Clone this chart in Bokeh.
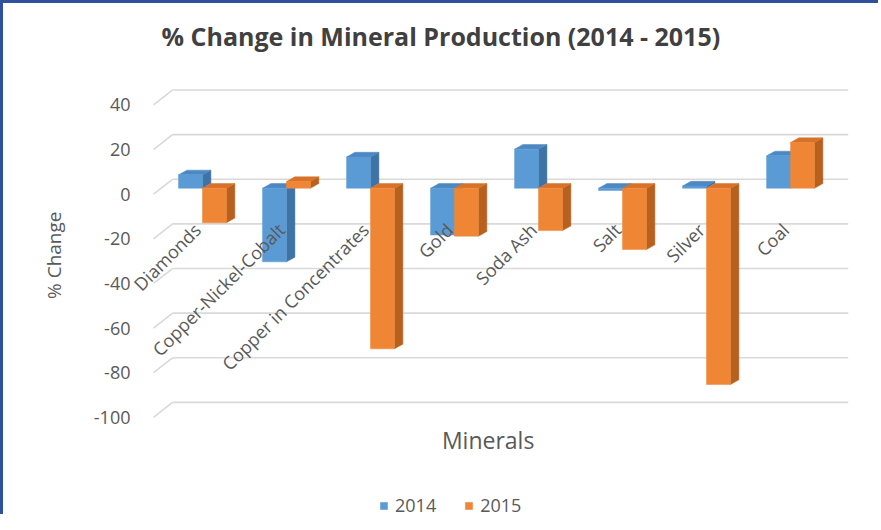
import numpy as np
from bokeh.plotting import figure
from bokeh.models import Range1d, FixedTicker, Legend, LegendItem, Title
from bokeh.core.properties import value
from bokeh.embed import file_html
from bokeh.resources import INLINE

# ---- data ----
minerals = ["Diamonds", "Copper-Nickel-Cobalt", "Copper in Concentrates", "Gold",
            "Soda Ash", "Salt", "Silver", "Coal"]
change_2014 = [6, -33, 14, -21, 17.5, -1, 1, 14.5]
change_2015 = [-15.5, 3, -72, -21.5, -19, -27.5, -88, 20.5]
y_ticks = [-100, -80, -60, -40, -20, 0, 20, 40]
series_names = ["2014", "2015"]

# ---- style ----
FONT = "Open Sans"
GREY = "#595959"
BLUE = ("#5B9BD5", "#3F73A6", "#4C88C2")     # front, side, top
ORANGE = ("#EF8636", "#B8611F", "#D8722A")
BAR_W = 0.285
DX, DY = 0.10, 2.1          # depth offset of bars (data units)
BAR_SHIFT = 2.7             # bars sit a bit behind the front plane
GDX0, GDX1, GDY = -0.583, -0.357, 6.7   # gridline slant (floor perspective)
X0, X1 = -0.857, 7.69
Y0, Y1 = -144.9, 57.7

p = figure(width=878, height=514, output_backend="svg", toolbar_location=None,
           x_range=Range1d(X0, X1), y_range=Range1d(Y0, Y1),
           min_border_left=127, min_border_right=33, min_border_top=61,
           min_border_bottom=0)
p.outline_line_color = None
p.xgrid.visible = False
p.ygrid.visible = False
p.xaxis.visible = False
p.styles = {"border-top": "3px solid #2F4F9F", "border-left": "3px solid #2F4F9F"}

# title
p.title.text = "% Change in Mineral Production (2014 - 2015)"
p.title.align = "left"
p.title.offset = 31
p.title.text_font = FONT
p.title.text_font_size = "25px"
p.title.text_font_style = "bold"
p.title.text_color = "#404040"
p.title.standoff = 26

# gridlines (3D back wall)
gx0 = [GDX0] * len(y_ticks)
gx1 = [GDX1] * len(y_ticks)
gy0 = list(y_ticks)
gy1 = [t + GDY for t in y_ticks]
p.segment(x0=gx0, y0=gy0, x1=gx1, y1=gy1, line_color="#D9D9D9", line_width=1.6)
p.segment(x0=gx1, y0=gy1, x1=[X1] * len(y_ticks), y1=gy1, line_color="#D9D9D9", line_width=1.6)


def draw_bars(lefts, vals, cols):
    front, side, top = cols
    lo = [min(0, v) + BAR_SHIFT for v in vals]
    hi = [max(0, v) + BAR_SHIFT for v in vals]
    rights = [l + BAR_W for l in lefts]
    sx = [[r, r + DX, r + DX, r] for r in rights]
    sy = [[a, a + DY, b + DY, b] for a, b in zip(lo, hi)]
    p.patches(sx, sy, fill_color=side, line_color=side, line_width=0.5)
    tx = [[l, l + DX, r + DX, r] for l, r in zip(lefts, rights)]
    ty = [[b, b + DY, b + DY, b] for b in hi]
    p.patches(tx, ty, fill_color=top, line_color=top, line_width=0.5)
    return p.quad(left=lefts, right=rights, bottom=lo, top=hi,
                  fill_color=front, line_color=front, line_width=0.5)


idx = np.arange(len(minerals))
r14 = draw_bars(list(idx - BAR_W), change_2014, BLUE)
r15 = draw_bars(list(idx.astype(float)), change_2015, ORANGE)

# category labels (drawn at the zero line, rotated)
p.text(x=list(idx - 0.06), y=[-14.5] * len(minerals), text=minerals,
       angle=np.pi / 4, text_align="right", text_baseline="middle",
       text_font=value(FONT), text_font_size="18px", text_color=GREY)

# x axis title
p.text(x=[3.40], y=[-110.0], text=["Minerals"], text_align="center",
       text_baseline="middle", text_font=value(FONT), text_font_size="23px",
       text_color=GREY)

# y axis
p.yaxis.ticker = FixedTicker(ticks=y_ticks)
p.yaxis.major_label_overrides = {t: str(t) for t in y_ticks}
p.yaxis.axis_line_color = None
p.yaxis.major_tick_line_color = None
p.yaxis.minor_tick_line_color = None
p.yaxis.major_label_standoff = -6
p.yaxis.major_label_text_font = FONT
p.yaxis.major_label_text_font_size = "18px"
p.yaxis.major_label_text_color = GREY

# y axis title (placed beside the axis, aligned with the gridded area)
ytitle = Title(text="% Change", align="right", offset=146, standoff=48,
               text_font=FONT, text_font_size="19px", text_font_style="normal",
               text_color=GREY)
p.add_layout(ytitle, "left")

legend = Legend(items=[LegendItem(label=series_names[0], renderers=[r14]),
                       LegendItem(label=series_names[1], renderers=[r15])],
                orientation="horizontal", location=(249, 0))
legend.border_line_color = None
legend.background_fill_alpha = 0
legend.glyph_width = 9
legend.glyph_height = 9
legend.label_text_font = FONT
legend.label_text_font_size = "18px"
legend.label_text_color = GREY
legend.spacing = 28
legend.padding = 0
legend.margin = 0
legend.label_standoff = 7
p.add_layout(legend)

open("out.html", "w").write(file_html(p, INLINE))
